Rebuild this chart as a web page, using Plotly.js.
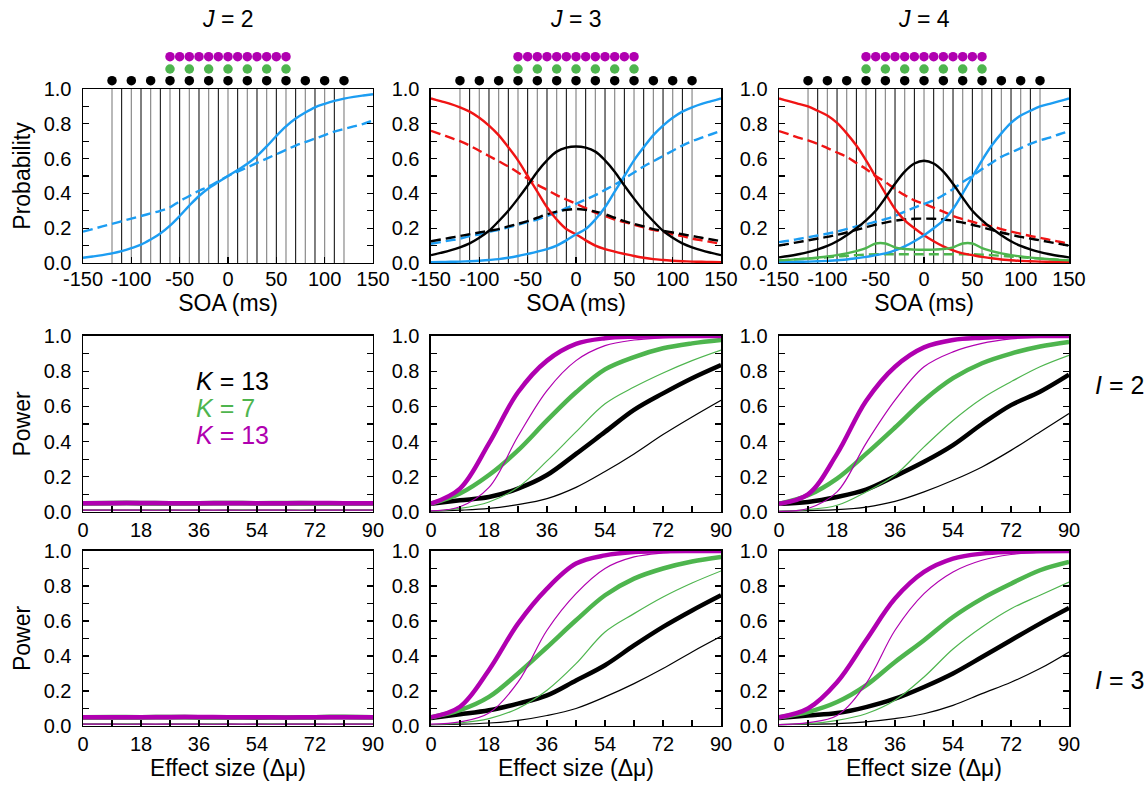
<!DOCTYPE html>
<html>
<head>
<meta charset="utf-8">
<script src="https://cdn.plot.ly/plotly-3.0.1.min.js"></script>
<style>html,body{margin:0;padding:0;background:#fff;}#chart{width:1148px;height:785px;}</style>
</head>
<body>
<div id="chart"></div>
<script>
// ---------------- DATA ----------------
const SOA = [-150,-140,-130,-120,-110,-100,-90,-80,-70,-60,-50,-40,-30,-20,-10,0,10,20,30,40,50,60,70,80,90,100,110,120,130,140,150];
const SOA_TICKS = [-150,-100,-50,0,50,100,150];
const SOA_TICK_LABELS = ['-150','-100','-50','0','50','100','150'];
const BOUNDARIES = [-120,-110,-100,-90,-80,-70,-60,-50,-40,-30,-20,-10,0,10,20,30,40,50,60,70,80,90,100,110,120];
const SOA_K13 = [-120,-100,-80,-60,-40,-20,0,20,40,60,80,100,120];
const SOA_K7 = [-60,-40,-20,0,20,40,60];
const SOA_K13_DENSE = [-60,-50,-40,-30,-20,-10,0,10,20,30,40,50,60];
const PROB_TICKS = [0,0.2,0.4,0.6,0.8,1.0];
const PROB_TICK_LABELS = ['0.0','0.2','0.4','0.6','0.8','1.0'];
const EFFECT = [0,9,18,27,36,45,54,63,72,81,90];
const EFFECT_TICKS = [0,18,36,54,72,90];
const EFFECT_TICK_LABELS = ['0','18','36','54','72','90'];

// J = 2
const J2_LATE_SOLID = [0.03,0.037,0.045,0.055,0.068,0.085,0.105,0.135,0.17,0.215,0.27,0.33,0.385,0.43,0.465,0.5,0.535,0.57,0.615,0.67,0.73,0.785,0.83,0.865,0.895,0.915,0.932,0.945,0.955,0.963,0.97];
const J2_LATE_DASH = [0.18,0.195,0.21,0.225,0.24,0.255,0.27,0.285,0.3,0.32,0.355,0.385,0.415,0.44,0.47,0.5,0.525,0.55,0.575,0.6,0.625,0.65,0.675,0.695,0.715,0.735,0.755,0.77,0.785,0.8,0.82];

// J = 3
const J3_EARLY_SOLID = [0.946,0.93,0.915,0.895,0.87,0.835,0.79,0.735,0.665,0.59,0.5,0.41,0.32,0.25,0.195,0.165,0.13,0.1,0.08,0.065,0.052,0.04,0.03,0.022,0.017,0.013,0.01,0.008,0.007,0.006,0.005];
const J3_LATE_SOLID = [0.005,0.006,0.007,0.008,0.01,0.013,0.017,0.022,0.03,0.04,0.052,0.065,0.08,0.1,0.13,0.165,0.195,0.25,0.32,0.41,0.5,0.59,0.665,0.735,0.79,0.835,0.87,0.895,0.915,0.93,0.946];
const J3_SIM_SOLID = [0.045,0.058,0.072,0.09,0.113,0.145,0.185,0.24,0.3,0.37,0.445,0.525,0.59,0.64,0.663,0.67,0.663,0.64,0.59,0.525,0.445,0.37,0.3,0.24,0.185,0.145,0.113,0.09,0.072,0.058,0.045];
const J3_EARLY_DASH = [0.76,0.74,0.72,0.70,0.675,0.645,0.615,0.585,0.555,0.52,0.485,0.45,0.42,0.39,0.365,0.34,0.315,0.29,0.27,0.25,0.235,0.22,0.205,0.19,0.18,0.165,0.155,0.14,0.13,0.12,0.11];
const J3_LATE_DASH = [0.11,0.12,0.13,0.14,0.155,0.165,0.18,0.19,0.205,0.22,0.235,0.25,0.27,0.29,0.315,0.34,0.365,0.39,0.42,0.45,0.485,0.52,0.555,0.585,0.615,0.645,0.675,0.70,0.72,0.74,0.76];
const J3_SIM_DASH = [0.125,0.135,0.145,0.155,0.165,0.175,0.185,0.195,0.21,0.225,0.24,0.26,0.28,0.295,0.305,0.31,0.305,0.295,0.28,0.26,0.24,0.225,0.21,0.195,0.185,0.175,0.165,0.155,0.145,0.135,0.125];

// J = 4
const J4_EARLY_SOLID = [0.946,0.93,0.915,0.9,0.875,0.848,0.805,0.745,0.675,0.59,0.495,0.4,0.31,0.245,0.2,0.16,0.125,0.095,0.072,0.055,0.045,0.035,0.027,0.02,0.016,0.012,0.01,0.008,0.007,0.006,0.005];
const J4_LATE_SOLID = [0.005,0.006,0.007,0.008,0.01,0.012,0.016,0.02,0.027,0.035,0.045,0.055,0.072,0.095,0.125,0.16,0.2,0.245,0.31,0.4,0.495,0.59,0.675,0.745,0.805,0.848,0.875,0.9,0.915,0.93,0.946];
const J4_SIM_SOLID = [0.032,0.04,0.05,0.062,0.078,0.098,0.125,0.16,0.2,0.245,0.3,0.375,0.455,0.525,0.572,0.588,0.572,0.525,0.455,0.375,0.3,0.245,0.2,0.16,0.125,0.098,0.078,0.062,0.05,0.04,0.032];
const J4_MID_SOLID = [0.015,0.018,0.022,0.026,0.031,0.037,0.045,0.055,0.068,0.085,0.112,0.112,0.09,0.08,0.077,0.076,0.077,0.08,0.09,0.112,0.112,0.085,0.068,0.055,0.045,0.037,0.031,0.026,0.022,0.018,0.015];
const J4_EARLY_DASH = [0.758,0.74,0.72,0.705,0.685,0.66,0.635,0.61,0.575,0.54,0.5,0.465,0.425,0.39,0.36,0.34,0.318,0.295,0.27,0.252,0.237,0.222,0.21,0.195,0.18,0.168,0.155,0.145,0.133,0.122,0.11];
const J4_LATE_DASH = [0.12,0.128,0.138,0.148,0.158,0.168,0.18,0.195,0.21,0.222,0.237,0.252,0.27,0.295,0.318,0.34,0.36,0.39,0.425,0.465,0.5,0.54,0.575,0.61,0.635,0.66,0.685,0.705,0.72,0.74,0.758];
const J4_SIM_DASH = [0.1,0.11,0.12,0.13,0.14,0.15,0.162,0.175,0.19,0.205,0.22,0.232,0.243,0.25,0.254,0.255,0.254,0.25,0.243,0.232,0.22,0.205,0.19,0.175,0.162,0.15,0.14,0.13,0.12,0.11,0.1];
const J4_MID_DASH = [0.015,0.018,0.021,0.025,0.029,0.033,0.037,0.041,0.045,0.048,0.05,0.05,0.05,0.05,0.05,0.05,0.05,0.05,0.05,0.05,0.05,0.048,0.045,0.041,0.037,0.033,0.029,0.025,0.021,0.018,0.015];

// Power, J = 2 (I = 2 and I = 3): flat at alpha
const P_I2_J2_K13_THICK = [0.05,0.051,0.05,0.049,0.05,0.051,0.05,0.05,0.049,0.05,0.05];
const P_I2_J2_K13_THIN  = [0.01,0.01,0.011,0.01,0.01,0.01,0.011,0.01,0.01,0.01,0.01];
const P_I2_J2_K7_THICK  = [0.05,0.05,0.051,0.05,0.049,0.05,0.05,0.051,0.05,0.05,0.05];
const P_I2_J2_K7_THIN   = [0.01,0.01,0.01,0.011,0.01,0.01,0.01,0.01,0.011,0.01,0.01];
const P_I2_J2_K13D_THICK= [0.05,0.05,0.051,0.05,0.05,0.049,0.05,0.05,0.051,0.05,0.05];
const P_I2_J2_K13D_THIN = [0.01,0.01,0.01,0.01,0.011,0.01,0.01,0.01,0.01,0.011,0.01];
const P_I3_J2_K13_THICK = [0.05,0.05,0.05,0.051,0.05,0.05,0.049,0.05,0.05,0.051,0.05];
const P_I3_J2_K13_THIN  = [0.01,0.011,0.01,0.01,0.01,0.01,0.01,0.011,0.01,0.01,0.01];
const P_I3_J2_K7_THICK  = [0.05,0.051,0.05,0.05,0.05,0.049,0.05,0.05,0.05,0.051,0.05];
const P_I3_J2_K7_THIN   = [0.01,0.01,0.01,0.01,0.011,0.01,0.01,0.01,0.01,0.01,0.011];
const P_I3_J2_K13D_THICK= [0.05,0.05,0.05,0.05,0.051,0.05,0.05,0.049,0.05,0.05,0.05];
const P_I3_J2_K13D_THIN = [0.01,0.01,0.01,0.011,0.01,0.01,0.01,0.01,0.011,0.01,0.01];

// Power, I = 2, J = 3
const P_I2_J3_K13_THICK = [0.047,0.066,0.085,0.133,0.21,0.33,0.455,0.58,0.674,0.76,0.835];
const P_I2_J3_K13_THIN  = [0.004,0.01,0.02,0.042,0.076,0.14,0.23,0.33,0.44,0.54,0.635];
const P_I2_J3_K7_THICK  = [0.047,0.105,0.21,0.35,0.52,0.68,0.81,0.88,0.93,0.958,0.977];
const P_I2_J3_K7_THIN   = [0.004,0.02,0.057,0.14,0.29,0.455,0.615,0.71,0.79,0.86,0.92];
const P_I2_J3_K13D_THICK= [0.047,0.133,0.39,0.68,0.86,0.955,0.987,0.996,0.999,1.0,1.0];
const P_I2_J3_K13D_THIN = [0.006,0.03,0.14,0.43,0.69,0.86,0.945,0.977,0.99,0.997,1.0];
// Power, I = 2, J = 4
const P_I2_J4_K13_THICK = [0.047,0.057,0.085,0.127,0.203,0.285,0.38,0.5,0.607,0.683,0.78];
const P_I2_J4_K13_THIN  = [0.004,0.008,0.013,0.028,0.06,0.114,0.18,0.256,0.35,0.455,0.56];
const P_I2_J4_K7_THICK  = [0.047,0.095,0.19,0.33,0.48,0.635,0.76,0.845,0.9,0.94,0.966];
const P_I2_J4_K7_THIN   = [0.004,0.013,0.038,0.114,0.21,0.37,0.52,0.645,0.74,0.825,0.89];
const P_I2_J4_K13D_THICK= [0.047,0.10,0.33,0.63,0.825,0.935,0.977,0.99,0.997,1.0,1.0];
const P_I2_J4_K13D_THIN = [0.004,0.02,0.114,0.39,0.635,0.825,0.91,0.958,0.983,0.995,0.998];
// Power, I = 3, J = 3
const P_I3_J3_K13_THICK = [0.046,0.067,0.09,0.128,0.175,0.26,0.347,0.46,0.566,0.66,0.747];
const P_I3_J3_K13_THIN  = [0.008,0.01,0.017,0.032,0.06,0.1,0.166,0.242,0.328,0.423,0.512];
const P_I3_J3_K7_THICK  = [0.05,0.09,0.166,0.3,0.45,0.604,0.747,0.842,0.9,0.94,0.966];
const P_I3_J3_K7_THIN   = [0.008,0.017,0.042,0.1,0.204,0.356,0.537,0.642,0.737,0.817,0.886];
const P_I3_J3_K13D_THICK= [0.05,0.11,0.32,0.585,0.785,0.928,0.975,0.994,0.999,1.0,1.0];
const P_I3_J3_K13D_THIN = [0.01,0.023,0.074,0.25,0.547,0.756,0.90,0.966,0.989,0.997,1.0];
// Power, I = 3, J = 4
const P_I3_J4_K13_THICK = [0.046,0.06,0.074,0.108,0.156,0.223,0.3,0.394,0.49,0.585,0.674];
const P_I3_J4_K13_THIN  = [0.008,0.01,0.013,0.023,0.042,0.07,0.118,0.185,0.25,0.328,0.423];
const P_I3_J4_K7_THICK  = [0.05,0.08,0.137,0.232,0.366,0.49,0.623,0.728,0.813,0.89,0.937];
const P_I3_J4_K7_THIN   = [0.008,0.013,0.032,0.07,0.147,0.28,0.44,0.566,0.67,0.747,0.823];
const P_I3_J4_K13D_THICK= [0.05,0.10,0.25,0.49,0.728,0.88,0.956,0.985,0.995,0.999,1.0];
const P_I3_J4_K13D_THIN = [0.008,0.019,0.06,0.242,0.547,0.756,0.88,0.947,0.98,0.994,0.998];

// ---------------- STYLE / LAYOUT ----------------
const FONT = 'Liberation Sans, Arial, Helvetica, sans-serif';
const C_BLUE = 'rgb(28,157,242)', C_RED = 'rgb(240,20,20)', C_BLACK = '#000000';
const C_GREEN = 'rgb(78,181,78)', C_MAG = 'rgb(176,0,176)';
const COL_DOM = [[0.0723,0.3249],[0.3754,0.6281],[0.6786,0.9312]];
const ROW_DOM = [[0.6650,0.8866],[0.3478,0.5720],[0.0752,0.2981]];
const DOT_DOM = [1 - 88 / 785, 1 - 46 / 785];   // strip above the top row for the SOA dots
const sfx = p => (p === 0 ? '' : String(p + 1));

const traces = [];
const layout = {
  width: 1148, height: 785,
  margin: {l: 0, r: 0, t: 0, b: 0},
  paper_bgcolor: '#fff', plot_bgcolor: '#fff',
  showlegend: false,
  font: {family: FONT, size: 20, color: '#000'},
  annotations: []
};

function axisBase() {
  return {
    showgrid: false, zeroline: false, showline: true, linecolor: '#000', linewidth: 1.5,
    ticks: 'inside', ticklen: 6, tickwidth: 1.2, tickcolor: '#000',
    tickfont: {family: FONT, size: 20, color: '#000'}
  };
}

for (let r = 0; r < 3; r++) {
  for (let c = 0; c < 3; c++) {
    const p = r * 3 + c, s = sfx(p);
    const xa = Object.assign(axisBase(), {domain: COL_DOM[c], anchor: 'y' + s, mirror: true});
    const ya = Object.assign(axisBase(), {
      domain: ROW_DOM[r], anchor: 'x' + s, mirror: 'allticks', range: [0, 1],
      tickvals: PROB_TICKS, ticktext: PROB_TICK_LABELS, ticklabelstandoff: 6,
      minor: {dtick: 0.1, tick0: 0, ticks: 'inside', ticklen: 6, tickwidth: 1.2, tickcolor: '#000', showgrid: false}
    });
    if (r === 0) {
      Object.assign(xa, {range: [-150, 150], tickvals: SOA_TICKS, ticktext: SOA_TICK_LABELS,
        title: {text: 'SOA (ms)', font: {size: 23}, standoff: 2}, ticklabelstandoff: -2});
    } else {
      Object.assign(xa, {range: [0, 90], tickvals: EFFECT_TICKS, ticktext: EFFECT_TICK_LABELS, ticklabelstandoff: 0,
        minor: {dtick: 9, tick0: 0, ticks: 'inside', ticklen: 6, tickwidth: 1.2, tickcolor: '#000', showgrid: false}});
      if (r === 2) xa.title = {text: 'Effect size (Δμ)', font: {size: 23}, standoff: 4};
    }
    if (c === 0) {
      ya.title = {text: r === 0 ? 'Probability' : 'Power', font: {size: 23}, standoff: 6};
    }
    layout['xaxis' + s] = xa;
    layout['yaxis' + s] = ya;
  }
}

// invisible axes for the dot strip above each top panel
const DOT_AX = [10, 11, 12];
for (let c = 0; c < 3; c++) {
  const n = DOT_AX[c];
  layout['xaxis' + n] = {domain: COL_DOM[c], anchor: 'y' + n, range: [-150, 150], visible: false, fixedrange: true};
  layout['yaxis' + n] = {domain: DOT_DOM, anchor: 'x' + n, range: [0, 42], visible: false, fixedrange: true};
}

// top row: boundary lines, dots, curves
const greyB = BOUNDARIES.filter(v => v % 20 === 0), blackB = BOUNDARIES.filter(v => v % 20 !== 0);
function vlines(vals) {
  const x = [], y = [];
  vals.forEach(v => { x.push(v, v, null); y.push(0, 1, null); });
  return {x, y};
}
const TOP = [
  [ // J = 2
    [J2_LATE_SOLID, C_BLUE, 'solid'], [J2_LATE_DASH, C_BLUE, '10px,5px']
  ],
  [ // J = 3
    [J3_EARLY_DASH, C_RED, '10px,5px'], [J3_LATE_DASH, C_BLUE, '10px,5px'], [J3_SIM_DASH, C_BLACK, '10px,5px'],
    [J3_EARLY_SOLID, C_RED, 'solid'], [J3_LATE_SOLID, C_BLUE, 'solid'], [J3_SIM_SOLID, C_BLACK, 'solid']
  ],
  [ // J = 4
    [J4_EARLY_DASH, C_RED, '10px,5px'], [J4_LATE_DASH, C_BLUE, '10px,5px'], [J4_SIM_DASH, C_BLACK, '10px,5px'], [J4_MID_DASH, C_GREEN, '10px,5px'],
    [J4_EARLY_SOLID, C_RED, 'solid'], [J4_LATE_SOLID, C_BLUE, 'solid'], [J4_SIM_SOLID, C_BLACK, 'solid'], [J4_MID_SOLID, C_GREEN, 'solid']
  ]
];
const DOT_ROWS = [[SOA_K13, C_BLACK, 7.3], [SOA_K7, C_GREEN, 19], [SOA_K13_DENSE, C_MAG, 31.3]];
const J_LABELS = ['2', '3', '4'];

for (let c = 0; c < 3; c++) {
  const s = sfx(c);
  const g = vlines(greyB), b = vlines(blackB);
  traces.push({type: 'scatter', mode: 'lines', x: g.x, y: g.y, xaxis: 'x' + s, yaxis: 'y' + s,
    line: {color: '#8a8a8a', width: 1.2}, hoverinfo: 'skip'});
  traces.push({type: 'scatter', mode: 'lines', x: b.x, y: b.y, xaxis: 'x' + s, yaxis: 'y' + s,
    line: {color: '#000', width: 1}, hoverinfo: 'skip'});
  TOP[c].forEach(([vals, col, dash]) => {
    traces.push({type: 'scatter', mode: 'lines', x: SOA, y: vals, xaxis: 'x' + s, yaxis: 'y' + s,
      line: {color: col, width: 2.4, dash: dash, shape: 'spline', smoothing: 1}});
  });
  const n = DOT_AX[c];
  DOT_ROWS.forEach(([xs, col, lvl]) => {
    traces.push({type: 'scatter', mode: 'markers', x: xs, y: xs.map(() => lvl), xaxis: 'x' + n, yaxis: 'y' + n,
      cliponaxis: false, marker: {color: col, size: 9.5, line: {width: 0}}});
  });
  layout.annotations.push({xref: 'paper', yref: 'paper', x: (COL_DOM[c][0] + COL_DOM[c][1]) / 2, y: 1 - 19 / 785,
    xanchor: 'center', yanchor: 'middle', showarrow: false,
    text: '<i>J</i> = ' + J_LABELS[c], font: {family: FONT, size: 23, color: '#000'}});
}

// power rows
const POWER = [
  [ // I = 2
    [P_I2_J2_K13_THIN, P_I2_J2_K13_THICK, P_I2_J2_K7_THIN, P_I2_J2_K7_THICK, P_I2_J2_K13D_THIN, P_I2_J2_K13D_THICK],
    [P_I2_J3_K13_THIN, P_I2_J3_K13_THICK, P_I2_J3_K7_THIN, P_I2_J3_K7_THICK, P_I2_J3_K13D_THIN, P_I2_J3_K13D_THICK],
    [P_I2_J4_K13_THIN, P_I2_J4_K13_THICK, P_I2_J4_K7_THIN, P_I2_J4_K7_THICK, P_I2_J4_K13D_THIN, P_I2_J4_K13D_THICK]
  ],
  [ // I = 3
    [P_I3_J2_K13_THIN, P_I3_J2_K13_THICK, P_I3_J2_K7_THIN, P_I3_J2_K7_THICK, P_I3_J2_K13D_THIN, P_I3_J2_K13D_THICK],
    [P_I3_J3_K13_THIN, P_I3_J3_K13_THICK, P_I3_J3_K7_THIN, P_I3_J3_K7_THICK, P_I3_J3_K13D_THIN, P_I3_J3_K13D_THICK],
    [P_I3_J4_K13_THIN, P_I3_J4_K13_THICK, P_I3_J4_K7_THIN, P_I3_J4_K7_THICK, P_I3_J4_K13D_THIN, P_I3_J4_K13D_THICK]
  ]
];
const P_STYLE = [[C_BLACK, 1.2], [C_BLACK, 4.5], [C_GREEN, 1.2], [C_GREEN, 4.5], [C_MAG, 1.2], [C_MAG, 4.5]];
for (let r = 1; r < 3; r++) {
  for (let c = 0; c < 3; c++) {
    const s = sfx(r * 3 + c);
    POWER[r - 1][c].forEach((vals, i) => {
      traces.push({type: 'scatter', mode: 'lines', x: EFFECT, y: vals, xaxis: 'x' + s, yaxis: 'y' + s,
        line: {color: P_STYLE[i][0], width: P_STYLE[i][1], shape: 'spline', smoothing: 1}});
    });
  }
}

// K legend text and I labels
const K_LEGEND = [['<i>K</i> = 13', C_BLACK], ['<i>K</i> = 7', C_GREEN], ['<i>K</i> = 13', C_MAG]];
K_LEGEND.forEach(([t, col], i) => {
  layout.annotations.push({xref: 'paper', yref: 'paper', x: 194 / 1148, y: 1 - (381 + 27 * i) / 785,
    xanchor: 'left', yanchor: 'middle', showarrow: false, text: t, font: {family: FONT, size: 25, color: col}});
});
const I_LABELS = [['<i>I</i> = 2', 385], ['<i>I</i> = 3', 680]];
I_LABELS.forEach(([t, ypx]) => {
  layout.annotations.push({xref: 'paper', yref: 'paper', x: 1093 / 1148, y: 1 - ypx / 785,
    xanchor: 'left', yanchor: 'middle', showarrow: false, text: t, font: {family: FONT, size: 25, color: '#000'}});
});

Plotly.newPlot('chart', traces, layout, {displayModeBar: false, staticPlot: true});
</script>
</body>
</html>
